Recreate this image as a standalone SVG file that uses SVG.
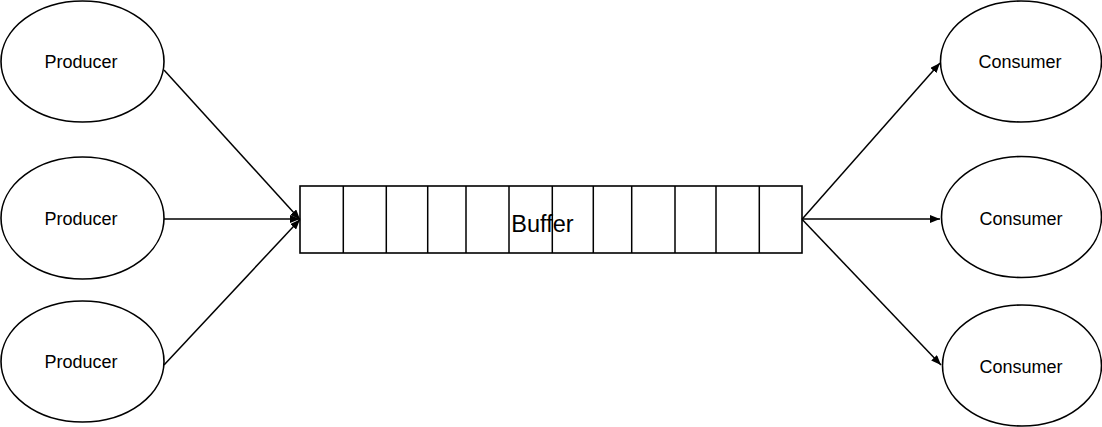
<svg xmlns="http://www.w3.org/2000/svg" width="1102" height="427" viewBox="0 0 1102 427">
<style>
.node{fill:#fff;stroke:#000;stroke-width:1.6}
.lbl{font-family:"Liberation Sans",Arial,sans-serif;font-size:18px;fill:#000;text-anchor:middle}
.edge{stroke:#000;stroke-width:1.5;fill:none;marker-end:url(#ah)}
.cell{stroke:#000;stroke-width:1.5;fill:none}
</style>
<defs>
<marker id="ah" markerWidth="10" markerHeight="8" refX="10" refY="4" orient="auto" markerUnits="userSpaceOnUse">
<path d="M0,0 L10,4 L0,8 Z" fill="#000"/>
</marker>
</defs>
<rect width="1102" height="427" fill="#fff"/>
<g id="producer1"><ellipse class="node" cx="82.5" cy="61.5" rx="81.5" ry="60.5"/><text class="lbl" x="81" y="68">Producer</text></g>
<g id="producer2"><ellipse class="node" cx="82.5" cy="218" rx="81.5" ry="61"/><text class="lbl" x="81" y="225">Producer</text></g>
<g id="producer3"><ellipse class="node" cx="82.5" cy="361.5" rx="81.5" ry="60.5"/><text class="lbl" x="81" y="368">Producer</text></g>
<g id="buffer">
<rect class="node" x="300" y="186" width="502" height="67"/>
<path class="cell" d="M343.3,186V253M386.3,186V253M427.7,186V253M466,186V253M509,186V253M552.3,186V253M593.3,186V253M631.7,186V253M675,186V253M716,186V253M759.3,186V253"/>
<text x="542.5" y="232" font-family="'Liberation Sans',Arial,sans-serif" font-size="23.5" text-anchor="middle">Buffer</text>
</g>
<g id="consumer1"><ellipse class="node" cx="1021" cy="61.5" rx="80.5" ry="60.5"/><text class="lbl" x="1020" y="68">Consumer</text></g>
<g id="consumer2"><ellipse class="node" cx="1021.5" cy="217" rx="80" ry="60.5"/><text class="lbl" x="1021" y="225">Consumer</text></g>
<g id="consumer3"><ellipse class="node" cx="1022" cy="365.5" rx="79.5" ry="60.5"/><text class="lbl" x="1021" y="373">Consumer</text></g>
<g id="connectors">
<line class="edge" x1="164" y1="70" x2="300" y2="219.5"/>
<line class="edge" x1="164" y1="219" x2="300" y2="219"/>
<line class="edge" x1="164" y1="365" x2="300" y2="219.5"/>
<line class="edge" x1="802" y1="219.3" x2="940" y2="63"/>
<line class="edge" x1="802" y1="219" x2="940" y2="219"/>
<line class="edge" x1="802" y1="219.3" x2="941" y2="365"/>
</g>
</svg>
